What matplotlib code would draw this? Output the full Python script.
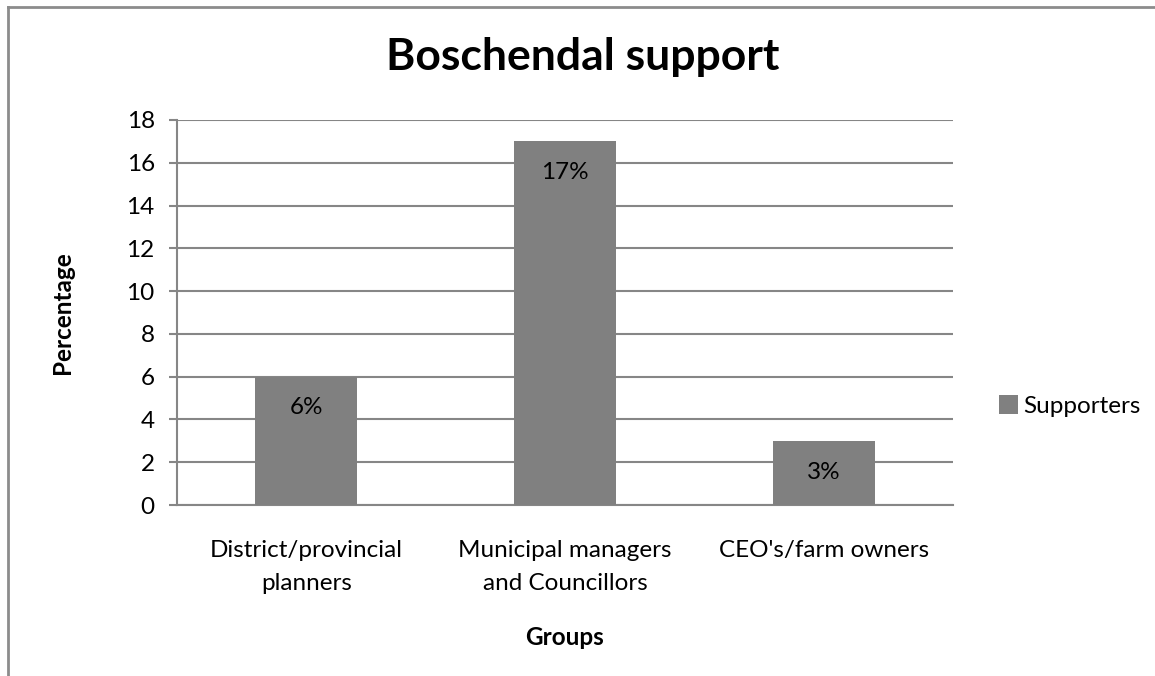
import matplotlib.pyplot as plt
import numpy as np

# chart data
groups = ['District/provincial\nplanners', 'Municipal managers\nand Councillors', "CEO's/farm owners"]
supporters = [6, 17, 3]
bar_labels = ['6%', '17%', '3%']
y_ticks = list(range(0, 19, 2))

plt.rcParams['font.family'] = ['Lato', 'DejaVu Sans']

fig = plt.figure(figsize=(11.55, 6.76), dpi=100)
ax = fig.add_axes([177 / 1155, 1 - 505 / 676, (953 - 177) / 1155, (505 - 120) / 676])

grid_col = '#868686'
bar_col = '#808080'
fs = 17.5

x = np.arange(len(groups))
bars = ax.bar(x, supporters, width=0.395, color=bar_col, label='Supporters', zorder=3)

for rect, lab in zip(bars, bar_labels):
    ax.annotate(lab, (rect.get_x() + rect.get_width() / 2, rect.get_height()),
                xytext=(0, -22.5), textcoords='offset points', ha='center', va='center',
                fontsize=fs, color='black', zorder=4)

ax.set_xlim(-0.5, len(groups) - 0.5)
ax.set_ylim(0, 18)
ax.set_yticks(y_ticks)
ax.set_xticks(x)
ax.set_xticklabels(groups, fontsize=fs, linespacing=1.72)
ax.tick_params(axis='y', labelsize=fs, length=6, width=1.5, color=grid_col, pad=10)
ax.tick_params(axis='x', length=0, pad=25)
ax.yaxis.grid(True, color=grid_col, linewidth=1.5, zorder=0)
ax.set_axisbelow(True)

for side in ['top', 'right']:
    ax.spines[side].set_visible(False)
ax.spines['left'].set_color(grid_col)
ax.spines['left'].set_linewidth(1.5)
ax.spines['bottom'].set_color(grid_col)
ax.spines['bottom'].set_linewidth(1.5)

ax.set_ylabel('Percentage', fontsize=fs, fontweight='bold', labelpad=38)
ax.set_xlabel('Groups', fontsize=fs, fontweight='bold', labelpad=23)

fig.text(583 / 1155, 1 - 57 / 676, 'Boschendal support', fontsize=32, fontweight='bold',
         ha='center', va='center')

leg = fig.legend(loc='center left', bbox_to_anchor=(977 / 1155, 1 - 406 / 676), frameon=False,
                 fontsize=fs, handlelength=0.8, handleheight=0.8, handletextpad=0.2)

# outer chart frame (top and left edges visible)
fig.add_artist(plt.Line2D([8 / 1155, 8 / 1155], [0, 1 - 7 / 676], transform=fig.transFigure,
                          color='#8c8c8c', linewidth=2))
fig.add_artist(plt.Line2D([8 / 1155, 1], [1 - 7 / 676, 1 - 7 / 676], transform=fig.transFigure,
                          color='#8c8c8c', linewidth=2))

fig.savefig('out.png', dpi=100)
